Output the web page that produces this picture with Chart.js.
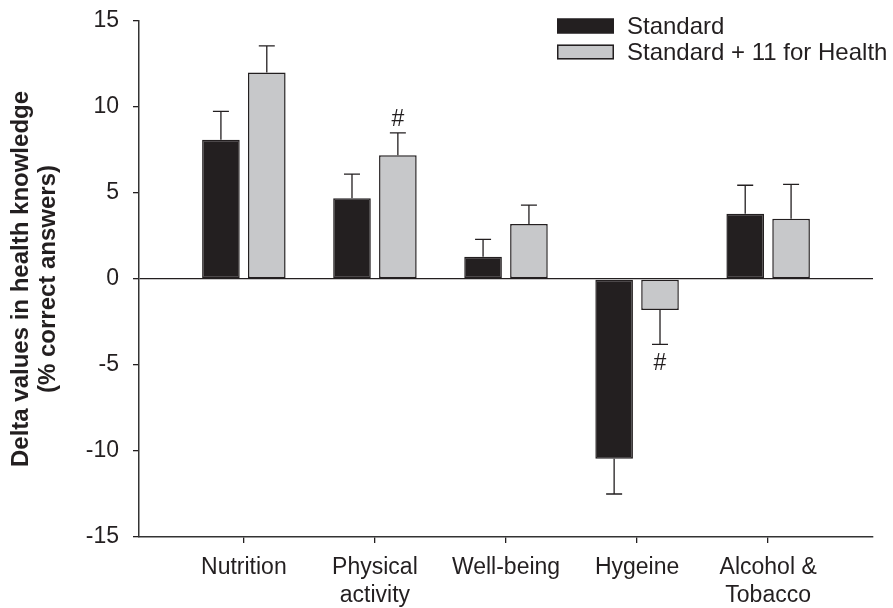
<!DOCTYPE html>
<html>
<head>
<meta charset="utf-8">
<script src="https://cdn.jsdelivr.net/npm/chart.js@4"></script>
<style>
  body { margin: 0; background: #fff; }
</style>
</head>
<body>
<canvas id="grafico" width="893" height="608"></canvas>
<script>
// dados
const categorias = [['Nutrition'], ['Physical', 'activity'], ['Well-being'], ['Hygeine'], ['Alcohol &', 'Tobacco']];
const nomesSeries = ['Standard', 'Standard + 11 for Health'];
const valoresStandard = [8.1, 4.7, 1.3, -10.45, 3.8];
const errosStandard = [1.65, 1.4, 1.0, 2.05, 1.65];
const valores11 = [12.0, 7.2, 3.2, -1.8, 3.5];
const erros11 = [1.55, 1.3, 1.1, 2.0, 2.0];
const marcasStandard = ['', '', '', '', ''];
const marcas11 = ['', '#', '', '#', ''];
const yTicks = [-15, -10, -5, 0, 5, 10, 15];

const fonte = 'Liberation Sans, Arial, sans-serif';
const preto = '#231f20';
const cinza = '#c7c8ca';

const barrasErro = {
  id: 'barrasErro',
  afterDatasetsDraw(chart) {
    const ctx = chart.ctx;
    const y = chart.scales.y;
    ctx.save();
    ctx.strokeStyle = preto;
    ctx.fillStyle = preto;
    ctx.lineWidth = 1.3;
    ctx.font = '23px ' + fonte;
    ctx.textAlign = 'center';
    chart.data.datasets.forEach((ds, d) => {
      const meta = chart.getDatasetMeta(d);
      meta.data.forEach((bar, i) => {
        const v = ds.data[i].y;
        const e = ds.erros[i];
        const fim = v >= 0 ? v + e : v - e;
        const y0 = y.getPixelForValue(v);
        const y1 = y.getPixelForValue(fim);
        ctx.beginPath();
        ctx.moveTo(bar.x, y0);
        ctx.lineTo(bar.x, y1);
        ctx.moveTo(bar.x - 8, y1);
        ctx.lineTo(bar.x + 8, y1);
        ctx.stroke();
        const m = ds.marcas[i];
        if (m) {
          if (v >= 0) {
            ctx.textBaseline = 'alphabetic';
            ctx.fillText(m, bar.x, y1 - 7);
          } else {
            ctx.textBaseline = 'top';
            ctx.fillText(m, bar.x, y1 + 8);
          }
        }
      });
    });
    ctx.restore();
  }
};

const legenda = {
  id: 'legenda',
  afterDraw(chart) {
    const ctx = chart.ctx;
    const area = chart.chartArea;
    const x0 = area.right - 316;
    ctx.save();
    ctx.font = '24px ' + fonte;
    ctx.textBaseline = 'middle';
    ctx.textAlign = 'left';
    chart.data.datasets.forEach((ds, d) => {
      const yc = 26 + d * 26;
      ctx.fillStyle = ds.backgroundColor;
      ctx.fillRect(x0, yc - 7.5, 57, 15);
      ctx.strokeStyle = preto;
      ctx.lineWidth = 1.5;
      ctx.strokeRect(x0 + 0.75, yc - 6.75, 55.5, 13.5);
      ctx.fillStyle = preto;
      ctx.fillText(ds.label, x0 + 70, yc + 1);
    });
    ctx.restore();
  }
};

const ctx = document.getElementById('grafico').getContext('2d');

new Chart(ctx, {
  type: 'bar',
  data: {
    datasets: [{
      label: nomesSeries[0],
      data: valoresStandard.map((v, i) => ({ x: i, y: v })),
      erros: errosStandard,
      marcas: marcasStandard,
      backgroundColor: preto,
      borderColor: preto,
      borderWidth: 1.5,
      borderSkipped: false
    }, {
      label: nomesSeries[1],
      data: valores11.map((v, i) => ({ x: i, y: v })),
      erros: erros11,
      marcas: marcas11,
      backgroundColor: cinza,
      borderColor: preto,
      borderWidth: 1.5,
      borderSkipped: false
    }]
  },
  options: {
    responsive: false,
    animation: false,
    categoryPercentage: 0.7,
    barPercentage: 0.82,
    layout: { padding: { top: 21, right: 20, left: 0, bottom: 0 } },
    plugins: { legend: { display: false }, tooltip: { enabled: false } },
    scales: {
      x: {
        type: 'linear',
        offset: false,
        min: -0.8,
        max: 4.8,
        afterBuildTicks: s => { s.ticks = categorias.map((c, i) => ({ value: i })); },
        ticks: {
          callback: v => categorias[v],
          font: { family: fonte, size: 23, lineHeight: 1.22 },
          color: preto,
          padding: 11,
          maxRotation: 0,
          autoSkip: false
        },
        grid: { offset: false, drawOnChartArea: false, tickLength: 6, color: preto, lineWidth: 1.3 },
        border: { color: '#333', width: 1.5 },
        afterFit: s => { s.height = 71; s.paddingLeft = 0; s.paddingRight = 0; }
      },
      y: {
        min: -15,
        max: 15,
        afterBuildTicks: s => { s.ticks = yTicks.map(v => ({ value: v })); },
        ticks: {
          font: { family: fonte, size: 23 },
          color: preto,
          padding: 14
        },
        grid: {
          color: c => (c.tick && c.tick.value === 0) ? preto : 'rgba(0,0,0,0)',
          tickColor: preto,
          tickLength: 6,
          lineWidth: 1.3
        },
        border: { color: '#333', width: 1.5 },
        title: {
          display: true,
          text: ['Delta values in health knowledge', '(% correct answers)'],
          font: { family: fonte, size: 24, weight: 'bold', lineHeight: 1.125 },
          color: preto,
          padding: { top: 8, bottom: 0 }
        },
        afterFit: s => { s.width = 139; s.paddingTop = 0; s.paddingBottom = 0; }
      }
    }
  },
  plugins: [barrasErro, legenda]
});
</script>
</body>
</html>
